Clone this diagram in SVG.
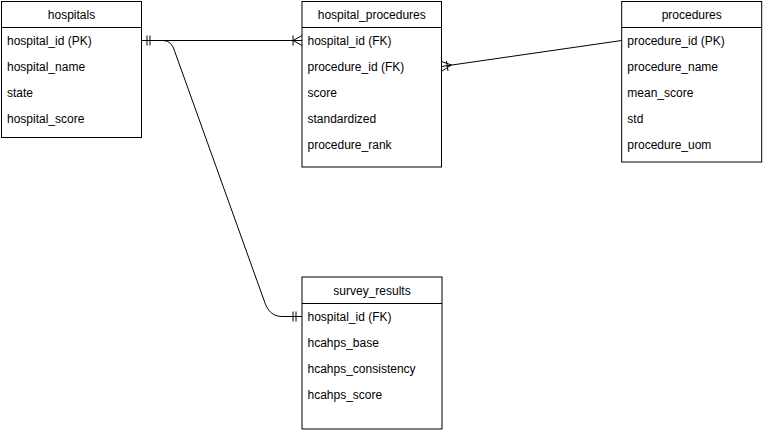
<svg xmlns="http://www.w3.org/2000/svg" width="764" height="432" viewBox="0 0 764 432">
<style>
.box{fill:#fff;stroke:#000;stroke-width:1}
.hd{font-family:"Liberation Sans",Arial,sans-serif;font-size:12px;fill:#000;text-anchor:middle}
.rw{font-family:"Liberation Sans",Arial,sans-serif;font-size:12px;fill:#000}
.ln{fill:none;stroke:#000;stroke-width:1}
</style>
<rect x="0" y="0" width="764" height="432" fill="#fff"/>
<g id="hospitals">
<rect class="box" x="1.5" y="1.5" width="140" height="136"/>
<line class="ln" x1="1.5" y1="27.5" x2="141.5" y2="27.5"/>
<text class="hd" x="71.5" y="18.5">hospitals</text>
<text class="rw" x="7" y="44.5">hospital_id (PK)</text>
<text class="rw" x="7" y="70.5">hospital_name</text>
<text class="rw" x="7" y="96.5">state</text>
<text class="rw" x="7" y="122.5">hospital_score</text>
</g>
<g id="hospital_procedures">
<rect class="box" x="302" y="1.5" width="139.5" height="165.5"/>
<line class="ln" x1="302" y1="27.5" x2="441.5" y2="27.5"/>
<text class="hd" x="371.75" y="18.5">hospital_procedures</text>
<text class="rw" x="307.5" y="44.5">hospital_id (FK)</text>
<text class="rw" x="307.5" y="70.5">procedure_id (FK)</text>
<text class="rw" x="307.5" y="96.5">score</text>
<text class="rw" x="307.5" y="122.5">standardized</text>
<text class="rw" x="307.5" y="148.5">procedure_rank</text>
</g>
<g id="procedures">
<rect class="box" x="621.7" y="1.5" width="140" height="160.5"/>
<line class="ln" x1="621.7" y1="27.5" x2="761.7" y2="27.5"/>
<text class="hd" x="691.7" y="18.5">procedures</text>
<text class="rw" x="627.3" y="44.5">procedure_id (PK)</text>
<text class="rw" x="627.3" y="70.5">procedure_name</text>
<text class="rw" x="627.3" y="96.5">mean_score</text>
<text class="rw" x="627.3" y="122.5">std</text>
<text class="rw" x="627.3" y="148.5">procedure_uom</text>
</g>
<g id="survey_results">
<rect class="box" x="302" y="277" width="140" height="152"/>
<line class="ln" x1="302" y1="303.5" x2="442" y2="303.5"/>
<text class="hd" x="372" y="295">survey_results</text>
<text class="rw" x="307.5" y="320.5">hospital_id (FK)</text>
<text class="rw" x="307.5" y="346.5">hcahps_base</text>
<text class="rw" x="307.5" y="372.5">hcahps_consistency</text>
<text class="rw" x="307.5" y="398.5">hcahps_score</text>
</g>
<g id="connectors">
<!-- hospitals -> hospital_procedures -->
<path class="ln" d="M141.5,40.5 L302,40.5"/>
<path class="ln" d="M147,35.5 L147,45.5 M150,35.5 L150,45.5"/>
<path class="ln" d="M293,35.5 L293,45.5 M293,40.5 L302,35.5 M293,40.5 L302,45.5"/>
<!-- procedures -> hospital_procedures -->
<path class="ln" d="M621.7,40.5 L441.5,66.5"/>
<path class="ln" d="M446.5,61 L448,71 M451.5,65 L441.5,61.5 M451.5,65 L442,71"/>
<!-- hospitals -> survey_results -->
<path class="ln" d="M141.5,40.5 L162,40.5 C168,40.5 171,43 173.5,48 L265,303 C268,311 273,316.5 282,316.5 L302,316.5"/>
<path class="ln" d="M293,311.5 L293,321.5 M296,311.5 L296,321.5"/>
</g>
</svg>
